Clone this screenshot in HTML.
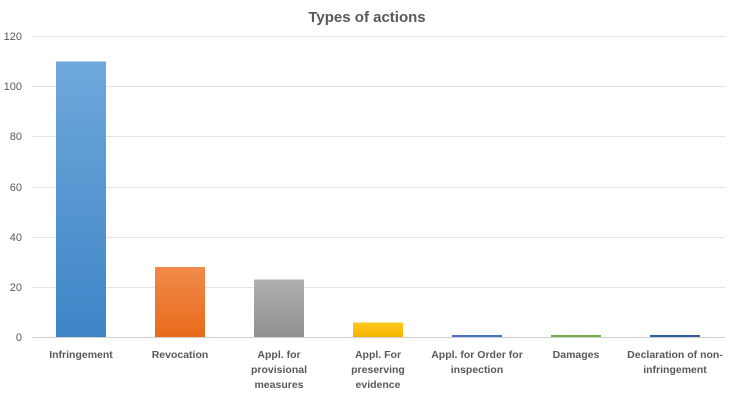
<!DOCTYPE html>
<html><head><meta charset="utf-8"><style>
html,body{margin:0;padding:0;background:#fff;}
svg{display:block;font-family:"Liberation Sans",sans-serif;}
</style></head><body>
<svg width="735" height="406" viewBox="0 0 735 406">
<defs>
<linearGradient id="b" x1="0" y1="0" x2="0" y2="1"><stop offset="0" stop-color="#6fa8dc"/><stop offset="1" stop-color="#3d85c6"/></linearGradient>
<linearGradient id="o" x1="0" y1="0" x2="0" y2="1"><stop offset="0" stop-color="#f08a4b"/><stop offset="1" stop-color="#e86a1a"/></linearGradient>
<linearGradient id="g" x1="0" y1="0" x2="0" y2="1"><stop offset="0" stop-color="#b0b0b0"/><stop offset="1" stop-color="#909090"/></linearGradient>
<linearGradient id="y" x1="0" y1="0" x2="0" y2="1"><stop offset="0" stop-color="#ffc820"/><stop offset="1" stop-color="#f5b400"/></linearGradient>
</defs>
<text x="367" y="22" text-anchor="middle" font-size="15" font-weight="bold" fill="#595959">Types of actions</text>
<g stroke="#e3e3e3" stroke-width="1">
<line x1="32" x2="725" y1="36.5" y2="36.5"/>
<line x1="32" x2="725" y1="86.5" y2="86.5"/>
<line x1="32" x2="725" y1="136.5" y2="136.5"/>
<line x1="32" x2="725" y1="187.5" y2="187.5"/>
<line x1="32" x2="725" y1="237.5" y2="237.5"/>
<line x1="32" x2="725" y1="287.5" y2="287.5"/>
</g>
<g font-size="11" fill="#595959" text-anchor="end">
<text x="22" y="40">120</text><text x="22" y="90">100</text><text x="22" y="140">80</text>
<text x="22" y="191">60</text><text x="22" y="241">40</text><text x="22" y="291">20</text><text x="22" y="341">0</text>
</g>
<rect x="56" y="61.5" width="50" height="276" fill="url(#b)"/>
<rect x="155" y="267" width="50" height="70.5" fill="url(#o)"/>
<rect x="254" y="279.5" width="50" height="58" fill="url(#g)"/>
<rect x="353" y="322.5" width="50" height="15" fill="url(#y)"/>
<rect x="452" y="335" width="50" height="2.5" fill="#4472c4"/>
<rect x="551" y="335" width="50" height="2.5" fill="#70ad47"/>
<rect x="650" y="335" width="50" height="2.5" fill="#2e5f9e"/>
<line x1="32" x2="725" y1="337.5" y2="337.5" stroke="#d0d0d0"/>
<g font-size="10.5" font-weight="bold" fill="#595959" text-anchor="middle">
<text x="81" y="358">Infringement</text>
<text x="180" y="358">Revocation</text>
<text x="279" y="358">Appl. for</text><text x="279" y="373">provisional</text><text x="279" y="388">measures</text>
<text x="378" y="358">Appl. For</text><text x="378" y="373">preserving</text><text x="378" y="388">evidence</text>
<text x="477" y="358">Appl. for Order for</text><text x="477" y="373">inspection</text>
<text x="576" y="358">Damages</text>
<text x="675" y="358">Declaration of non-</text><text x="675" y="373">infringement</text>
</g>
</svg>
</body></html>
